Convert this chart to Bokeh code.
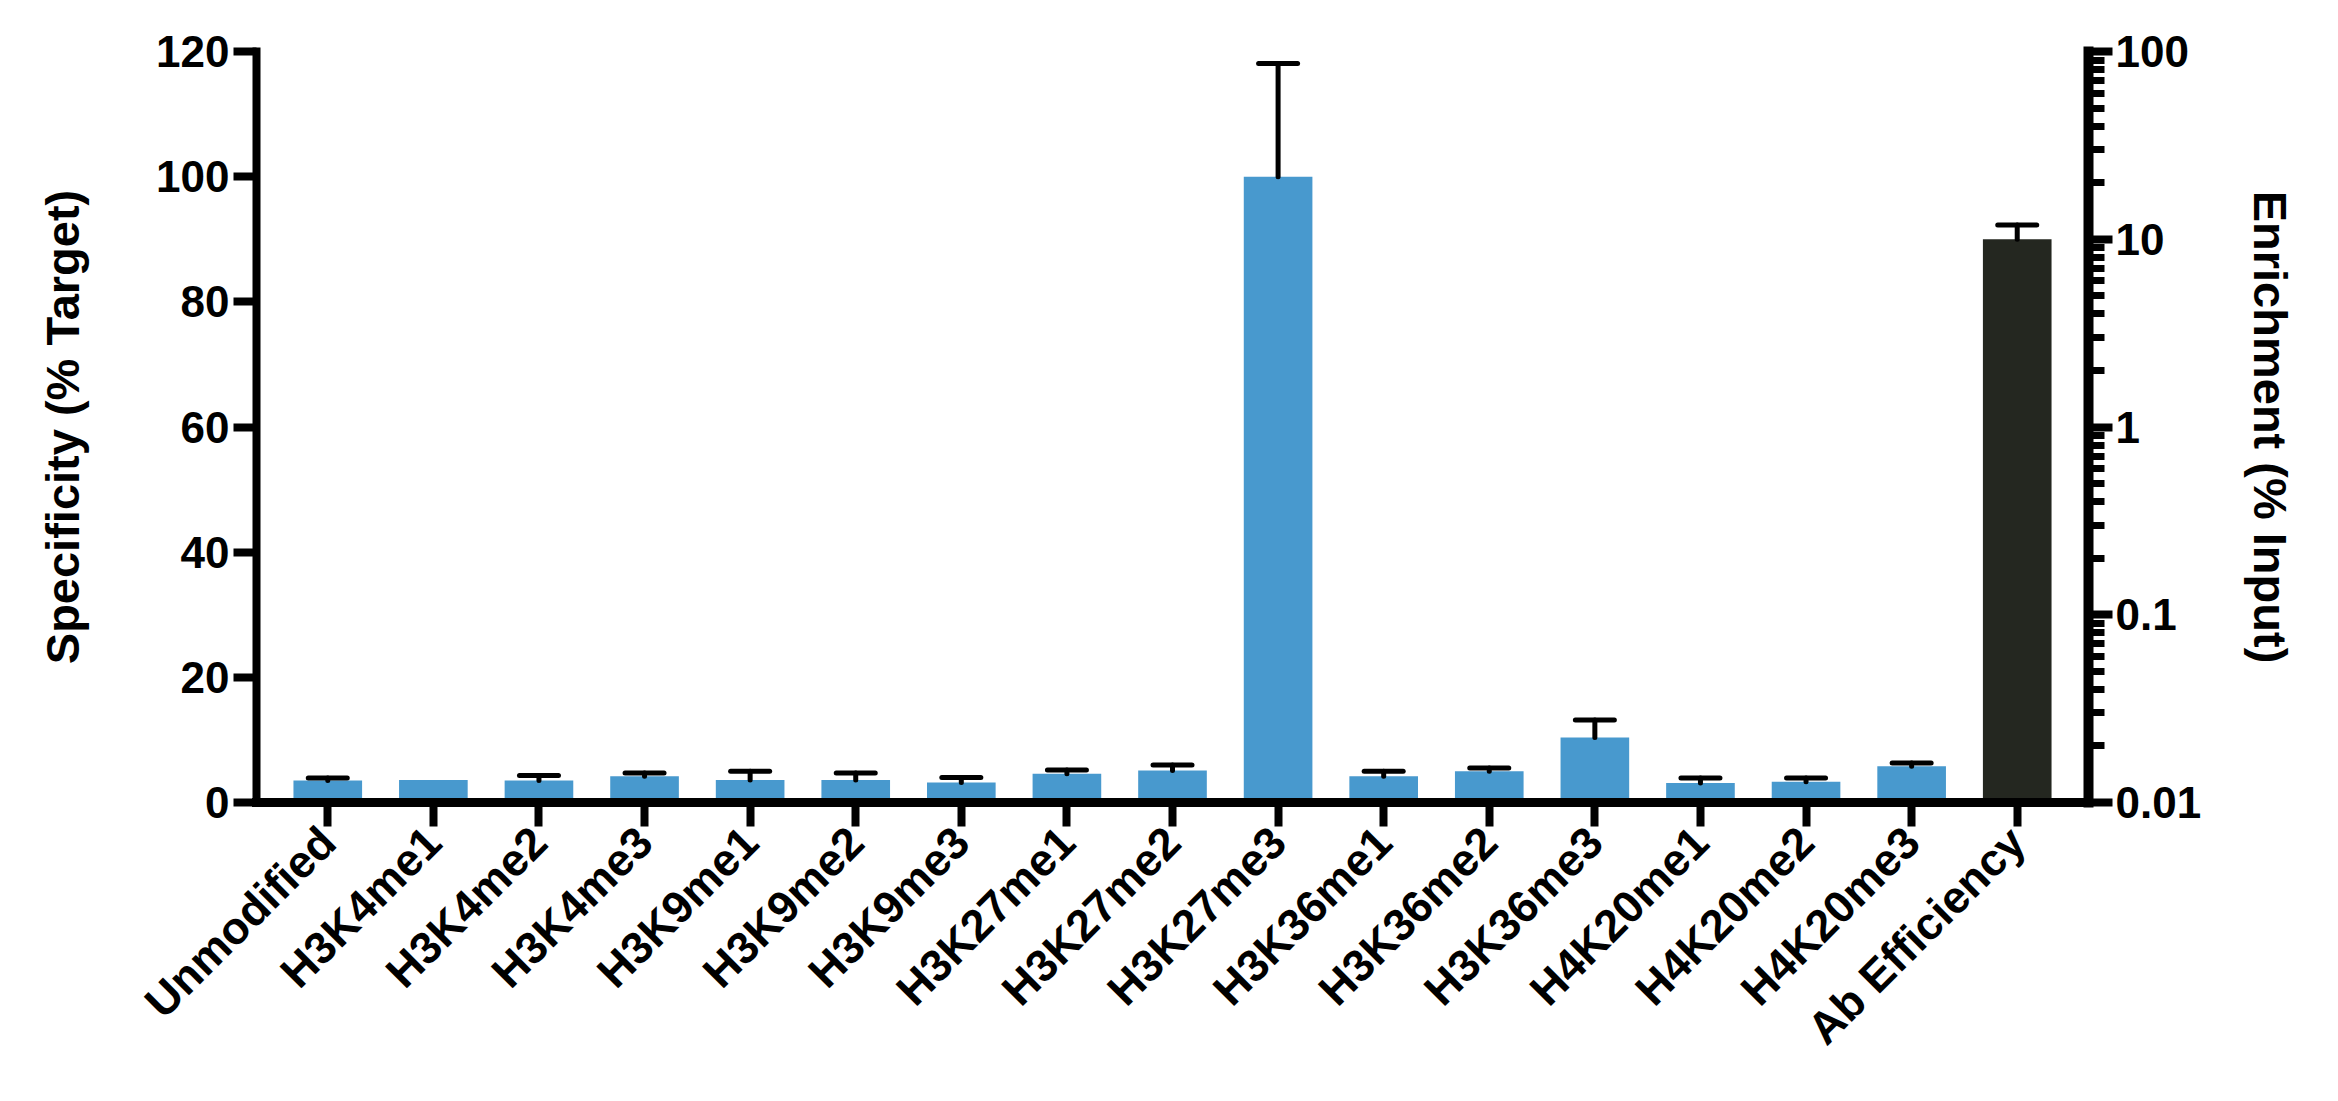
import math
from bokeh.plotting import figure
from bokeh.models import (FactorRange, Range1d, LogScale, LogAxis, FixedTicker,
                          ColumnDataSource, Whisker, TeeHead)
from bokeh.embed import file_html
from bokeh.resources import INLINE

# ---------------- data ----------------
categories = ["Unmodified", "H3K4me1", "H3K4me2", "H3K4me3", "H3K9me1", "H3K9me2",
              "H3K9me3", "H3K27me1", "H3K27me2", "H3K27me3", "H3K36me1", "H3K36me2",
              "H3K36me3", "H4K20me1", "H4K20me2", "H4K20me3"]
specificity = [3.5, 3.6, 3.5, 4.2, 3.6, 3.6, 3.2, 4.6, 5.1, 100.0, 4.2, 5.0, 10.4, 3.1, 3.3, 5.8]
specificity_err = [0.4, None, 0.8, 0.5, 1.4, 1.1, 0.8, 0.6, 0.9, 18.1, 0.8, 0.5, 2.8, 0.8, 0.6, 0.5]

efficiency_category = ["Ab Efficiency"]
enrichment = [10.0]
enrichment_err = [1.9]

left_ticks = [0, 20, 40, 60, 80, 100, 120]
right_ticks = [0.01, 0.1, 1, 10, 100]
right_tick_labels = ["0.01", "0.1", "1", "10", "100"]

FONT = "Liberation Sans"
BLUE = "#4899CE"
DARK = "#242720"

all_factors = categories + efficiency_category

p = figure(width=2328, height=1093,
           x_range=FactorRange(*all_factors, range_padding=0.35 / 17),
           y_range=Range1d(0, 120),
           output_backend="svg", toolbar_location=None,
           min_border_left=256, min_border_right=240,
           min_border_top=51, min_border_bottom=291)
p.extra_y_ranges = {"log": Range1d(0.01, 100)}
p.extra_y_scales = {"log": LogScale()}

p.xgrid.visible = False
p.ygrid.visible = False
p.outline_line_color = None
p.background_fill_color = "white"
p.border_fill_color = "white"

# bars
src = ColumnDataSource(dict(x=categories, top=specificity))
p.vbar(x="x", top="top", bottom=0, width=0.65, source=src,
       fill_color=BLUE, line_color=None)

src_eff = ColumnDataSource(dict(x=efficiency_category, top=enrichment))
p.vbar(x="x", top="top", bottom=0.01, width=0.65, source=src_eff,
       fill_color=DARK, line_color=None, y_range_name="log")

# error bars (upper only)
wx, wl, wu = [], [], []
for c, v, e in zip(categories, specificity, specificity_err):
    if e is not None:
        wx.append(c); wl.append(v); wu.append(v + e)
wsrc = ColumnDataSource(dict(x=wx, lower=wl, upper=wu))
p.add_layout(Whisker(source=wsrc, base="x", lower="lower", upper="upper",
                     dimension="height", line_width=5, line_color="black", line_cap="round",
                     upper_head=TeeHead(size=39, line_width=5, line_color="black", line_cap="round"),
                     lower_head=None, level="glyph"))

esrc = ColumnDataSource(dict(x=efficiency_category, lower=enrichment,
                             upper=[v + e for v, e in zip(enrichment, enrichment_err)]))
p.add_layout(Whisker(source=esrc, base="x", lower="lower", upper="upper",
                     dimension="height", line_width=5, line_color="black", line_cap="round",
                     upper_head=TeeHead(size=39, line_width=5, line_color="black", line_cap="round"),
                     lower_head=None, y_range_name="log", level="glyph"))

# x axis
xa = p.xaxis[0]
xa.axis_line_width = 9
xa.axis_line_color = "black"
xa.axis_line_cap = "square"
xa.major_tick_out = 24
xa.major_tick_in = 0
xa.major_tick_line_width = 8
xa.major_tick_line_color = "black"
xa.major_label_orientation = math.pi / 4
xa.major_label_text_font = FONT
xa.major_label_text_font_style = "bold"
xa.major_label_text_font_size = "45px"
xa.major_label_text_color = "black"
xa.major_label_standoff = 8

# left y axis
ya = p.yaxis[0]
ya.ticker = FixedTicker(ticks=left_ticks)
ya.axis_line_width = 8
ya.axis_line_cap = "square"
ya.axis_line_color = "black"
ya.major_tick_out = 23
ya.major_tick_in = 0
ya.major_tick_line_width = 8
ya.minor_tick_out = 0
ya.minor_tick_in = 0
ya.major_label_text_font = FONT
ya.major_label_text_font_style = "bold"
ya.major_label_text_font_size = "44px"
ya.major_label_text_color = "black"
ya.major_label_standoff = 4
ya.axis_label = "Specificity (% Target)"
ya.axis_label_text_font = FONT
ya.axis_label_text_font_style = "bold"
ya.axis_label_text_font_size = "47px"
ya.axis_label_text_color = "black"
ya.axis_label_standoff = 64

# right log axis
minor = [m * d for d in (0.01, 0.1, 1, 10) for m in range(2, 10)]
ra = LogAxis(y_range_name="log", ticker=FixedTicker(ticks=right_ticks, minor_ticks=minor))
ra.major_label_overrides = {t: s for t, s in zip(right_ticks, right_tick_labels)}
ra.axis_line_width = 10
ra.axis_line_cap = "square"
ra.axis_line_color = "black"
ra.major_tick_out = 24
ra.major_tick_in = 0
ra.major_tick_line_width = 8
ra.minor_tick_out = 16
ra.minor_tick_in = 0
ra.minor_tick_line_width = 7
ra.major_label_text_font = FONT
ra.major_label_text_font_style = "bold"
ra.major_label_text_font_size = "44px"
ra.major_label_text_color = "black"
ra.major_label_standoff = 3
ra.axis_label = "Enrichment (% Input)"
ra.axis_label_text_font = FONT
ra.axis_label_text_font_style = "bold"
ra.axis_label_text_font_size = "47px"
ra.axis_label_text_color = "black"
ra.axis_label_standoff = 40
p.add_layout(ra, "right")

open("out.html", "w").write(file_html(p, INLINE))
